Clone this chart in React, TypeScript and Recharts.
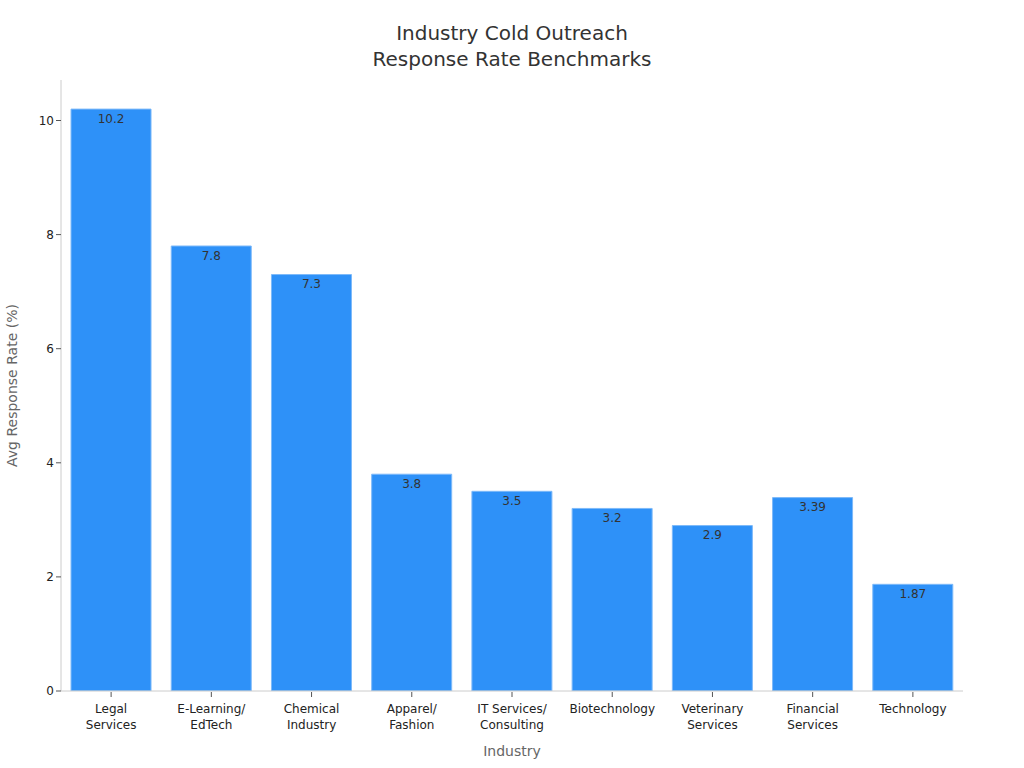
import React from "react";
import { BarChart, Bar, XAxis, YAxis, LabelList } from "recharts";

const categories = [
  "Legal\nServices",
  "E-Learning/\nEdTech",
  "Chemical\nIndustry",
  "Apparel/\nFashion",
  "IT Services/\nConsulting",
  "Biotechnology",
  "Veterinary\nServices",
  "Financial\nServices",
  "Technology",
];
const values = [10.2, 7.8, 7.3, 3.8, 3.5, 3.2, 2.9, 3.39, 1.87];
const yTicks = [0, 2, 4, 6, 8, 10];

const data = categories.map((c, i) => ({ name: c, value: values[i] }));

const FONT = "'DejaVu Sans', sans-serif";

const CatTick = (props: any) => {
  const { x, y, payload } = props;
  const lines = String(payload.value).split("\n");
  return (
    <g transform={`translate(${x},${y})`}>
      <line x1={0} y1={-7} x2={0} y2={-2} stroke="#555" strokeWidth={1} />
      {lines.map((l, i) => (
        <text
          key={i}
          x={0}
          y={14 + i * 16}
          textAnchor="middle"
          fontSize={12}
          fontFamily={FONT}
          fill="#222"
        >
          {l}
        </text>
      ))}
    </g>
  );
};

export default function App() {
  return (
    <div style={{ position: "absolute", left: 0, top: 0, width: 1024, height: 768, background: "#fff" }}>
      <div
        style={{
          position: "absolute",
          left: 0,
          top: 20,
          width: 1024,
          textAlign: "center",
          fontFamily: FONT,
          fontSize: 20,
          lineHeight: "26px",
          color: "#333",
        }}
      >
        Industry Cold Outreach
        <br />
        Response Rate Benchmarks
      </div>
      <BarChart
        width={1024}
        height={768}
        data={data}
        margin={{ top: 80, right: 61, bottom: 26, left: 0 }}
        barCategoryGap="10%"
      >
        <XAxis
          dataKey="name"
          interval={0}
          height={51}
          tick={<CatTick />}
          tickLine={false}
          axisLine={{ stroke: "#ccc" }}
          label={{
            value: "Industry",
            position: "insideBottom",
            offset: -14,
            fontSize: 14,
            fontFamily: FONT,
            fill: "#666",
          }}
        />
        <YAxis
          width={61}
          domain={[0, 10.71]}
          ticks={yTicks}
          allowDataOverflow
          tick={{ fontSize: 12, fontFamily: FONT, fill: "#222" }}
          tickLine={{ stroke: "#555" }}
          tickSize={5}
          axisLine={{ stroke: "#ccc" }}
          label={{
            value: "Avg Response Rate (%)",
            angle: -90,
            position: "insideLeft",
            offset: 12,
            style: { textAnchor: "middle" },
            fontSize: 14,
            fontFamily: FONT,
            fill: "#666",
          }}
        />
        <Bar dataKey="value" fill="#2E91F8" stroke="#7DB9F9" strokeWidth={1} isAnimationActive={false}>
          <LabelList
            dataKey="value"
            position="insideTop"
            offset={5}
            fontSize={12}
            fontFamily={FONT}
            fill="#333"
          />
        </Bar>
      </BarChart>
    </div>
  );
}
